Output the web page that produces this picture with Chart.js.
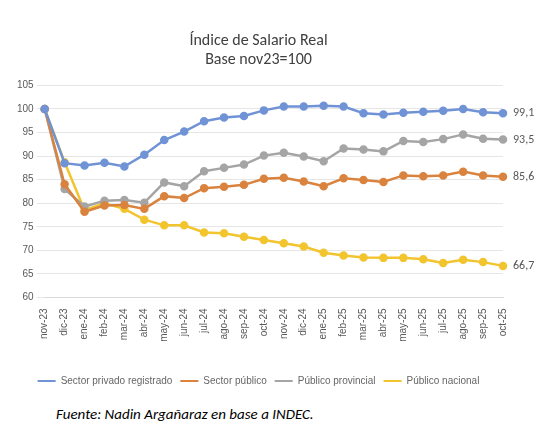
<!DOCTYPE html>
<html><head><meta charset="utf-8">
<script src="https://cdn.jsdelivr.net/npm/chart.js@4"></script>
<style>
body{margin:0;background:#fff;font-family:Calibri,Carlito,"Open Sans",sans-serif;}
#wrap{position:relative;width:551px;height:432px;}
#foot{position:absolute;left:56px;top:405px;font-style:italic;font-size:15px;color:#000;}
</style></head><body>
<div id="wrap"><canvas id="c" width="551" height="400"></canvas>
<div id="foot">Fuente: Nadin Argañaraz en base a INDEC.</div></div>
<script>
const months = ['nov-23','dic-23','ene-24','feb-24','mar-24','abr-24','may-24','jun-24','jul-24','ago-24','sep-24','oct-24','nov-24','dic-24','ene-25','feb-25','mar-25','abr-25','may-25','jun-25','jul-25','ago-25','sep-25','oct-25'];
const privado = [100,88.5,88,88.6,87.8,90.3,93.4,95.2,97.4,98.2,98.5,99.7,100.5,100.5,100.7,100.5,99.1,98.8,99.2,99.4,99.6,100,99.3,99.1];
const publico = [100,84,78.2,79.5,79.6,78.8,81.5,81.1,83.2,83.5,83.9,85.2,85.4,84.6,83.6,85.3,84.9,84.5,85.9,85.7,85.9,86.7,85.9,85.6];
const provincial = [100,83,79.3,80.5,80.7,80.1,84.4,83.6,86.8,87.5,88.2,90.1,90.7,89.9,88.9,91.6,91.4,91.0,93.2,93.0,93.6,94.6,93.7,93.5];
const nacional = [100,88.7,78.5,80.0,78.8,76.5,75.3,75.3,73.8,73.6,72.9,72.2,71.5,70.8,69.5,68.9,68.5,68.4,68.4,68.1,67.3,68.0,67.5,66.7];

function ds(label, data, color){
  return {label, data, borderColor: color, backgroundColor: color, borderWidth: 2.5,
    pointRadius: 3, pointHoverRadius: 3, tension: 0};
}
const endLabels = {
  id: 'endLabels',
  afterDatasetsDraw(chart){
    const ctx = chart.ctx;
    ctx.save();
    ctx.font = '12px Calibri, Carlito, "Open Sans", sans-serif';
    ctx.fillStyle = '#595959';
    ctx.textBaseline = 'middle';
    chart.data.datasets.forEach((d, i) => {
      const pts = chart.getDatasetMeta(i).data;
      const p = pts[pts.length - 1];
      ctx.fillText(String(d.data[d.data.length - 1]).replace('.', ','), p.x + 10, p.y);
    });
    ctx.restore();
  }
};
new Chart(document.getElementById('c'), {
  type: 'line',
  data: { labels: months, datasets: [
    ds('Sector privado registrado', privado, '#7093d6'),
    ds('Sector público', publico, '#d9833f'),
    ds('Público provincial', provincial, '#a5a5a5'),
    ds('Público nacional', nacional, '#f2c42e')
  ]},
  options: {
    responsive: false, animation: false,
    layout: { padding: { left: 14, right: 48, top: 0, bottom: 4 } },
    plugins: {
      title: { display: true, text: ['Índice de Salario Real', 'Base nov23=100'], color: '#404040',
        font: { size: 16, family: 'Calibri, Carlito, "Open Sans", sans-serif', weight: 'normal' }, padding: { top: 31, bottom: 16 } },
      legend: { position: 'bottom',
        title: { display: true, text: ' ', padding: 8, font: { size: 6 } },
        labels: { boxWidth: 18, boxHeight: 2, color: '#595959',
        font: { size: 10 }, padding: 8, generateLabels(chart){
          return chart.data.datasets.map((d, i) => ({ text: d.label, fillStyle: d.borderColor, strokeStyle: d.borderColor, lineWidth: 0, datasetIndex: i }));
        } } },
      tooltip: { enabled: false }
    },
    scales: {
      x: { grid: { display: false }, border: { color: '#d9d9d9' },
        ticks: { color: '#595959', font: { size: 10 }, maxRotation: 90, minRotation: 90, autoSkip: false } },
      y: { min: 60, max: 105, grid: { color: '#e6e6e6' }, border: { display: false },
        ticks: { stepSize: 5, color: '#595959', font: { size: 10 } } }
    }
  },
  plugins: [endLabels]
});
</script></body></html>
